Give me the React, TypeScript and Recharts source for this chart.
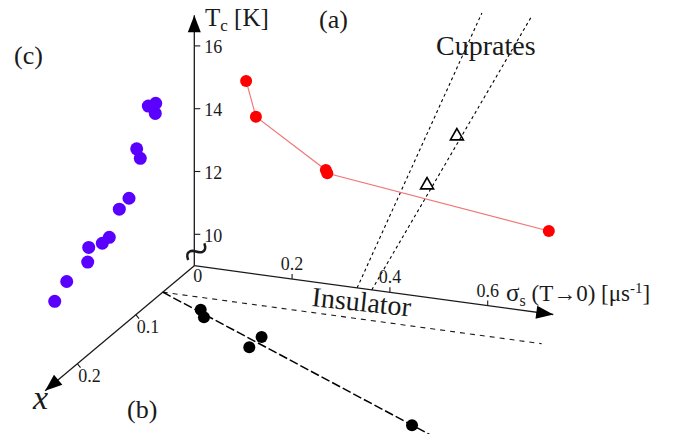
import React from 'react';
import { ScatterChart, Scatter, XAxis, YAxis, ReferenceLine, ReferenceDot } from 'recharts';

// (a) Tc vs sigma_s, drawn in the x = 0 plane
const redSigma = [0.106, 0.126, 0.269, 0.272, 0.725];
const redTc = [15.11, 14.01, 12.62, 12.52, 11.64];

// (b) sigma_s vs x, drawn on the floor
const blackX = [0.076, 0.088, 0.109, 0.13, 0.228];
const blackSigma = [0.104, 0.125, 0.268, 0.268, 0.718];

// (c) Tc vs x, drawn in the sigma = 0 plane
const blueX = [0.0786, 0.066, 0.0667, 0.0985, 0.0923, 0.1116, 0.1282, 0.1453, 0.1573, 0.1805, 0.1822, 0.2181, 0.2386];
const blueTc = [15.31, 15.2, 14.89, 14.26, 13.86, 12.89, 12.8, 12.17, 12.17, 12.4, 11.96, 11.9, 11.59];

// cuprates (open triangles) and the two dotted lines
const cupSigma = [0.537, 0.476];
const cupTc = [14.3, 12.61];
const cupLineASigma = [0.333, 0.588];
const cupLineATc = [9, 18.29];
const cupLineBSigma = [0.363, 0.689];
const cupLineBTc = [9, 18.38];

// linear fit of (b) and insulator boundary
const fitX = [0.054, 0.243];
const fitSigma = [0, 0.78];
const insulatorX = 0.054;
const insulatorSigma = [0, 0.775];

const tcTicks = [10, 12, 14, 16];
const sigmaTicks = [0.2, 0.4, 0.6];
const xTicks = [0.1, 0.2];

const TC_BASE = 9;
const TC_END = 16.98;
const SIGMA_END = 0.734;
const X_END = 0.255;

// oblique projection of (sigma, Tc, x) onto the page
const ORIGIN = { x: 194.3, y: 265.7 };
const E_SIGMA = { x: 489, y: 66.5 };
const E_TC = { x: 0, y: -31.4 };
const E_X = { x: -585, y: 490 };

const proj = (s: number, t: number, x: number) => ({
  px: ORIGIN.x + E_SIGMA.x * s + E_TC.x * (t - TC_BASE) + E_X.x * x,
  py: ORIGIN.y + E_SIGMA.y * s + E_TC.y * (t - TC_BASE) + E_X.y * x,
});

const W = 681;
const H = 434;
const FONT = "'Liberation Serif', 'Times New Roman', serif";
const INK = '#1a1a1a';

const redData = redSigma.map((s, i) => proj(s, redTc[i], 0));
const blackData = blackSigma.map((s, i) => proj(s, TC_BASE, blackX[i]));
const blueData = blueX.map((x, i) => proj(0, blueTc[i], x));
const cupData = cupSigma.map((s, i) => proj(s, cupTc[i], 0));

type P = { px: number; py: number };
const seg = (a: P, b: P) => [
  { x: a.px, y: a.py },
  { x: b.px, y: b.py },
];

const line = (key: string, a: P, b: P, stroke: string, width: number, dash?: string) => (
  <ReferenceLine
    key={key}
    segment={seg(a, b)}
    stroke={stroke}
    strokeWidth={width}
    strokeDasharray={dash}
    ifOverflow="visible"
  />
);

const label = (key: string, at: P, content: React.ReactNode, extra: Record<string, any> = {}, angle = 0) => (
  <ReferenceDot
    key={key}
    x={at.px}
    y={at.py}
    r={0}
    ifOverflow="visible"
    shape={(p: any) => (
      <text x={p.cx} y={p.cy} fontFamily={FONT} fill={INK} {...extra}
        transform={angle ? `rotate(${angle} ${p.cx} ${p.cy})` : undefined}>
        {content}
      </text>
    )}
  />
);

const arrow = (key: string, tip: P, dx: number, dy: number) => {
  const len = Math.hypot(dx, dy);
  const ux = dx / len;
  const uy = dy / len;
  const L = 17;
  const hw = 6.5;
  return (
    <ReferenceDot
      key={key}
      x={tip.px}
      y={tip.py}
      r={0}
      ifOverflow="visible"
      shape={(p: any) => {
        const bx = p.cx - ux * L;
        const by = p.cy - uy * L;
        const pts = `${p.cx},${p.cy} ${bx - uy * hw},${by + ux * hw} ${bx + uy * hw},${by - ux * hw}`;
        return <polygon points={pts} fill="#000" />;
      }}
    />
  );
};

const dot = (fill: string, r: number) => (p: any) => <circle cx={p.cx} cy={p.cy} r={r} fill={fill} />;

const openTriangle = (p: any) => {
  const s = 6.5;
  const pts = `${p.cx},${p.cy - s} ${p.cx - s},${p.cy + s * 0.75} ${p.cx + s},${p.cy + s * 0.75}`;
  return <polygon points={pts} fill="none" stroke="#000" strokeWidth={1.6} strokeLinejoin="miter" />;
};

export default function App() {
  const o = proj(0, TC_BASE, 0);
  const tcTip = proj(0, TC_END, 0);
  const sTip = proj(SIGMA_END, TC_BASE, 0);
  const xTip = proj(0, TC_BASE, X_END);
  const xLen = Math.hypot(E_X.x, E_X.y);
  const xn = { x: E_X.y / xLen, y: -E_X.x / xLen };

  return (
    <div style={{ position: 'absolute', left: 0, top: 0, background: '#fff' }}>
      <ScatterChart width={W} height={H} margin={{ top: 0, right: 0, bottom: 0, left: 0 }}>
        <XAxis type="number" dataKey="px" domain={[0, W]} hide allowDataOverflow />
        <YAxis type="number" dataKey="py" domain={[0, H]} reversed hide allowDataOverflow />

        {/* axes */}
        {line('ax-tc', o, tcTip, INK, 1.3)}
        {line('ax-s', o, sTip, INK, 1.3)}
        {line('ax-x', o, xTip, INK, 1.3)}
        {arrow('ar-tc', tcTip, 0, -1)}
        {arrow('ar-s', sTip, E_SIGMA.x, E_SIGMA.y)}
        {arrow('ar-x', xTip, E_X.x, E_X.y)}

        {tcTicks.map((t) => {
          const a = proj(0, t, 0);
          return line(`tt-${t}`, a, { px: a.px + 6, py: a.py }, INK, 1.1);
        })}
        {sigmaTicks.map((s) => {
          const a = proj(s, TC_BASE, 0);
          return line(`st-${s}`, a, { px: a.px, py: a.py - 5 }, INK, 1.1);
        })}
        {xTicks.map((x) => {
          const a = proj(0, TC_BASE, x);
          return line(`xt-${x}`, a, { px: a.px + xn.x * 5, py: a.py + xn.y * 5 }, INK, 1.1);
        })}

        {/* dashed guides */}
        {line('insul', proj(insulatorSigma[0], TC_BASE, insulatorX), proj(insulatorSigma[1], TC_BASE, insulatorX), INK, 1.1, '5 5')}
        {line('fit', proj(fitSigma[0], TC_BASE, fitX[0]), proj(fitSigma[1], TC_BASE, fitX[1]), '#000', 1.5, '9 3')}
        {line('cupA', proj(cupLineASigma[0], cupLineATc[0], 0), proj(cupLineASigma[1], cupLineATc[1], 0), '#000', 1.1, '3 3')}
        {line('cupB', proj(cupLineBSigma[0], cupLineBTc[0], 0), proj(cupLineBSigma[1], cupLineBTc[1], 0), '#000', 1.1, '3 3')}

        {/* data */}
        <Scatter data={redData} line={{ stroke: '#f07878', strokeWidth: 1.2 }} lineType="joint" shape={dot('#ff0000', 6)} isAnimationActive={false} />
        <Scatter data={blueData} shape={dot('#5a00ff', 6.5)} isAnimationActive={false} />
        <Scatter data={blackData} shape={dot('#000', 6)} isAnimationActive={false} />
        <Scatter data={cupData} shape={openTriangle} isAnimationActive={false} />

        {/* tick labels */}
        {tcTicks.map((t) => {
          const a = proj(0, t, 0);
          return label(`tl-${t}`, { px: a.px + 10, py: a.py + 7.5 }, String(t), { fontSize: 18 });
        })}
        {label('zero', { px: o.px - 1, py: o.py + 16 }, '0', { fontSize: 18 })}
        {sigmaTicks.map((s) => {
          const a = proj(s, TC_BASE, 0);
          return label(`sl-${s}`, { px: a.px, py: a.py - 9 }, s.toFixed(1), { fontSize: 18, textAnchor: 'middle' });
        })}
        {xTicks.map((x) => {
          const a = proj(0, TC_BASE, x);
          return label(`xl-${x}`, { px: a.px + 1, py: a.py + 18 }, x.toFixed(1), { fontSize: 18 });
        })}

        {/* axis titles and panel labels */}
        {label('tc-title', { px: 205, py: 26 }, (
          <>
            <tspan fontSize={25}>T</tspan>
            <tspan fontSize={17} dy={5}>c</tspan>
            <tspan fontSize={25} dy={-5}> [K]</tspan>
          </>
        ))}
        {label('s-title', { px: 506, py: 301 }, (
          <>
            <tspan fontSize={25}>σ</tspan>
            <tspan fontSize={16} dy={5}>s</tspan>
            <tspan fontSize={23} dy={-5}> (T→0) [μs</tspan>
            <tspan fontSize={15} dy={-8}>-1</tspan>
            <tspan fontSize={23} dy={8}>]</tspan>
          </>
        ))}
        {label('x-title', { px: 33, py: 409 }, 'x', { fontSize: 34, fontStyle: 'italic' })}
        {label('break', { px: 196, py: 251 }, '~', { fontSize: 50, textAnchor: 'middle', dominantBaseline: 'central' }, -25)}
        {label('insul-t', { px: 311, py: 306 }, 'Insulator', { fontSize: 28 }, 6)}
        {label('cup-t', { px: 436, py: 55 }, 'Cuprates', { fontSize: 28 })}
        {label('pa', { px: 319, py: 28 }, '(a)', { fontSize: 26 })}
        {label('pb', { px: 127, py: 418 }, '(b)', { fontSize: 26 })}
        {label('pc', { px: 14, py: 64 }, '(c)', { fontSize: 26 })}
      </ScatterChart>
    </div>
  );
}
